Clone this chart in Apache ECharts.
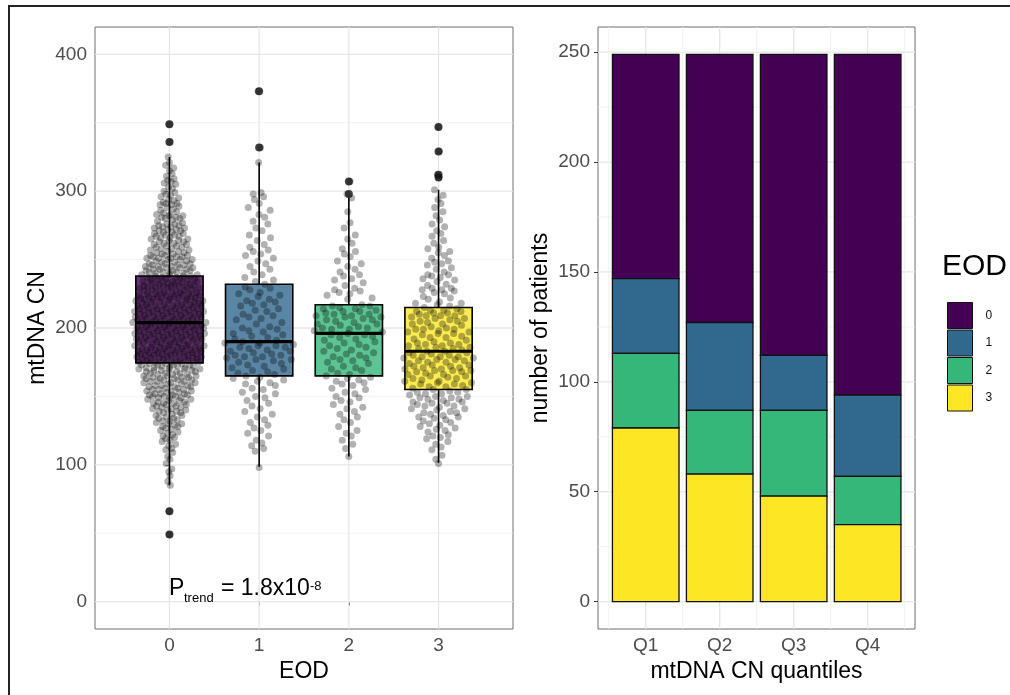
<!DOCTYPE html>
<html><head><meta charset="utf-8">
<script src="https://cdn.jsdelivr.net/npm/echarts@6/dist/echarts.min.js"></script>
<style>html,body{margin:0;padding:0;background:#fff}#c{width:1010px;height:695px}</style>
</head><body><div id="c"></div>
<script>
// ---------------- data ----------------
const EOD_LEVELS = ['0', '1', '2', '3'];
const EOD_COLORS = ['#440154', '#31688E', '#35B779', '#FDE725'];
const BOX_FILLS = ['rgba(68,1,84,0.8)', 'rgba(49,104,142,0.8)', 'rgba(53,183,121,0.8)', 'rgba(253,231,37,0.8)'];

// boxplot summary per EOD group: [lower whisker, Q1, median, Q3, upper whisker]
const BOX_STATS = [
  [85, 174.5, 204, 238, 325],
  [98.5, 165, 190, 232, 321],
  [106, 165, 196, 217, 295],
  [101.5, 155, 183, 215, 301]
];
const OUTLIERS = [[49, 66, 336, 349], [332, 373], [298, 307], [310, 312, 329, 347]];

// mtDNA CN of individual patients per EOD group (read from the dot clouds)
const CN_EOD0 = [49,66,85,88,92,95,97,
101,104,106,109,
111,112,114,115,117,118,119,
120,121,122,123,124,125,126,127,128,128,129,
130,130,131,132,132,133,134,134,135,136,136,137,138,138,139,139,
140,140,141,141,142,142,143,143,144,144,145,145,145,146,146,147,147,148,148,149,149,149,
150,150,150,151,151,151,152,152,152,153,153,154,154,154,155,155,155,156,156,157,157,157,158,158,158,159,159,
160,160,160,161,161,161,162,162,162,163,163,163,164,164,164,165,165,165,166,166,166,167,167,167,168,168,168,169,169,169,
170,170,170,170,171,171,171,171,172,172,172,173,173,173,173,174,174,174,175,175,175,175,176,176,176,177,177,177,177,178,178,178,179,179,179,179,
180,180,180,180,181,181,181,181,182,182,182,182,183,183,183,183,184,184,184,184,185,185,185,185,186,186,186,186,187,187,187,187,188,188,188,189,189,189,
190,190,190,190,191,191,191,191,192,192,192,192,193,193,193,193,194,194,194,194,195,195,195,195,196,196,196,196,197,197,197,197,198,198,198,198,199,199,199,199,
200,200,200,200,201,201,201,201,202,202,202,202,203,203,203,203,204,204,204,204,205,205,205,205,206,206,206,206,207,207,207,207,208,208,208,208,209,209,209,209,
210,210,210,210,211,211,211,211,212,212,212,212,213,213,213,213,214,214,214,214,215,215,215,215,216,216,216,216,217,217,217,217,218,218,218,219,219,219,
220,220,220,220,221,221,221,221,222,222,222,222,223,223,223,223,224,224,224,224,225,225,225,225,226,226,226,227,227,227,228,228,228,229,229,229,
230,230,230,230,231,231,231,231,232,232,232,233,233,233,234,234,234,235,235,235,236,236,236,237,237,237,238,238,238,239,239,239,
240,240,240,241,241,241,242,242,242,243,243,243,244,244,244,245,245,245,246,246,246,247,247,247,248,248,249,249,
250,250,250,251,251,251,252,252,252,253,253,253,254,254,255,255,256,256,257,257,258,258,259,259,
260,260,261,261,262,262,263,263,264,264,265,265,266,266,267,267,268,268,269,269,
270,270,271,271,272,272,273,273,274,274,275,275,276,276,277,278,279,
280,280,281,281,282,282,283,283,284,285,286,287,288,289,
290,290,291,291,292,293,294,295,296,297,298,299,
300,302,303,305,306,307,308,309,
311,313,315,317,319,
321,325,336,349];
const CN_EOD1 = [98,110,112,114,116,118,
121,123,125,127,129,
131,133,135,137,139,
141,143,145,147,149,
150,152,153,155,156,158,159,
160,161,162,163,164,165,166,167,168,169,
170,171,172,173,174,175,176,177,177,178,179,179,
180,180,181,182,183,183,184,185,186,186,187,187,188,189,189,
190,191,192,193,194,195,196,197,198,199,
200,201,203,204,206,207,208,209,
210,212,213,214,216,217,218,219,
220,221,223,224,225,226,228,229,
230,232,234,235,237,239,
241,243,245,247,249,
251,253,254,256,257,259,
261,264,266,268,
271,273,276,278,
281,283,286,288,
291,294,296,298,299,
321,332,373];
const CN_EOD2 = [106,112,115,118,
121,123,125,128,
131,133,135,137,139,
141,142,144,146,147,149,
150,152,153,155,156,158,159,
160,161,162,163,164,165,166,167,169,
170,171,172,174,175,176,177,178,179,
180,181,182,183,184,185,186,187,188,189,
190,191,192,193,194,195,195,196,197,198,199,199,
200,200,201,202,203,203,204,205,206,206,207,208,208,209,209,
210,210,211,212,212,213,214,214,215,216,216,217,
221,222,224,225,226,227,228,229,
231,233,235,236,238,239,
241,243,245,247,249,
252,254,256,258,
262,265,268,
273,277,
285,
295,
298,307];
const CN_EOD3 = [101,104,107,
111,113,115,117,119,
120,121,122,124,125,126,127,128,129,
130,131,132,133,134,135,135,136,137,138,138,139,
140,141,141,142,143,143,144,145,145,146,146,147,148,148,149,149,
150,150,151,152,152,153,153,154,155,155,156,157,157,158,159,159,
160,160,161,161,162,163,163,164,165,165,166,166,167,168,168,169,169,169,
170,170,171,171,172,172,173,173,174,175,175,176,176,177,177,178,178,179,179,179,
180,180,181,182,182,183,183,184,185,185,186,186,187,187,188,188,189,189,
190,191,192,193,193,194,195,196,196,197,197,198,199,199,199,
200,201,202,203,203,204,205,205,206,207,207,208,209,209,209,
210,211,211,212,212,213,213,214,215,216,217,218,218,219,
221,222,223,225,226,227,228,228,229,229,
231,232,234,235,236,237,238,239,239,
241,243,244,246,247,248,249,
251,253,255,256,258,259,
262,264,267,269,
271,274,276,279,
282,285,288,
291,294,297,
301,
310,312,329,347];
const CN_GROUPS = [CN_EOD0, CN_EOD1, CN_EOD2, CN_EOD3];

// number of patients per mtDNA CN quantile, by EOD
const Q_LABELS = ['Q1', 'Q2', 'Q3', 'Q4'];
const N_EOD0 = [102, 122, 137, 155];
const N_EOD1 = [34, 40, 25, 37];
const N_EOD2 = [34, 29, 39, 22];
const N_EOD3 = [79, 58, 48, 35];
const N_BY_EOD = [N_EOD0, N_EOD1, N_EOD2, N_EOD3];

// axis ticks
const LEFT_X_TICKS = [0, 1, 2, 3];
const LEFT_Y_TICKS = [0, 100, 200, 300, 400];
const LEFT_Y_MINOR = [50, 150, 250, 350];
const RIGHT_X_TICKS = [1, 2, 3, 4];
const RIGHT_X_MINOR = [0.5, 1.5, 2.5, 3.5, 4.5];
const RIGHT_Y_TICKS = [0, 50, 100, 150, 200, 250];
const RIGHT_Y_MINOR = [25, 75, 125, 175, 225];

// ---------------- layout helpers ----------------
const FONT = '"Liberation Sans", Arial, Helvetica, sans-serif';
const BOX_HALF = 0.375, BAR_HALF = 0.45, SWARM_HALF = 0.41;

function vdc(n) { let v = 0, d = 1; while (n) { d *= 2; v += (n & 1) / d; n >>= 1; } return v; }
function quasirandom(vals, g) {
  const s = [...vals].sort((a, b) => a - b);
  const bw = 9;
  const dens = s.map(y => s.reduce((acc, v) => acc + Math.exp(-0.5 * ((y - v) / bw) ** 2), 0));
  const dmax = Math.max(...dens);
  return s.map((y, i) => [g + (vdc(i + 1) * 2 - 1) * SWARM_HALF * dens[i] / dmax, y]);
}
const dots = [];
CN_GROUPS.forEach((vals, g) => quasirandom(vals, g).forEach(p => dots.push(p)));
const outlierPts = [];
OUTLIERS.forEach((o, g) => o.forEach(v => outlierPts.push([g, v])));
const boxData = BOX_STATS.map((s, g) => [g, ...s]);

// stacked bars: bottom = EOD 3, top = EOD 0
const stackOrder = [3, 2, 1, 0];
const barSeriesData = {};
const base = [0, 0, 0, 0];
stackOrder.forEach(lv => {
  barSeriesData[lv] = N_BY_EOD[lv].map((n, q) => { const r = [q + 1, base[q], base[q] + n]; base[q] += n; return r; });
});

function gridLinesData(hMaj, hMin, vMaj, vMin) {
  const d = [];
  hMaj.forEach(v => d.push([0, v, 1])); hMin.forEach(v => d.push([0, v, 0]));
  vMaj.forEach(v => d.push([1, v, 1])); vMin.forEach(v => d.push([1, v, 0]));
  return d;
}
function gridRenderer(refX, refY) {
  return function (params, api) {
    const cs = params.coordSys;
    const o = api.value(0), v = api.value(1), major = api.value(2);
    let shape;
    if (o === 0) { const y = api.coord([refX, v])[1]; shape = { x1: cs.x, y1: y, x2: cs.x + cs.width, y2: y }; }
    else { const x = api.coord([v, refY])[0]; shape = { x1: x, y1: cs.y, x2: x, y2: cs.y + cs.height }; }
    return { type: 'line', shape, style: { stroke: major ? '#e6e6e6' : '#f1f1f1', lineWidth: major ? 1.3 : 0.9 } };
  };
}

const axisCommon = {
  axisLine: { show: false },
  splitLine: { show: false },
  nameTextStyle: { fontSize: 23, color: '#000', fontFamily: FONT },
};

const series = [
  { type: 'custom', name: 'gridL', xAxisIndex: 0, yAxisIndex: 0, z: 1, silent: true,
    data: gridLinesData(LEFT_Y_TICKS, LEFT_Y_MINOR, LEFT_X_TICKS, []), renderItem: gridRenderer(0, 0) },
  { type: 'custom', name: 'gridR', xAxisIndex: 1, yAxisIndex: 1, z: 1, silent: true,
    data: gridLinesData(RIGHT_Y_TICKS, RIGHT_Y_MINOR, RIGHT_X_TICKS, RIGHT_X_MINOR), renderItem: gridRenderer(1, 0) },
  { type: 'custom', name: 'box', xAxisIndex: 0, yAxisIndex: 0, z: 2, silent: true,
    encode: { x: 0, y: [1, 2, 3, 4, 5] },
    data: boxData,
    renderItem: function (params, api) {
      const g = api.value(0);
      const lo = api.value(1), q1 = api.value(2), med = api.value(3), q3 = api.value(4), hi = api.value(5);
      const tl = api.coord([g - BOX_HALF, q3]), br = api.coord([g + BOX_HALF, q1]);
      const cx = api.coord([g, med])[0];
      const yLo = api.coord([g, lo])[1], yHi = api.coord([g, hi])[1], yMed = api.coord([g, med])[1];
      const line = { stroke: '#000', lineWidth: 1.6 };
      return { type: 'group', children: [
        { type: 'line', shape: { x1: cx, y1: yHi, x2: cx, y2: tl[1] }, style: line },
        { type: 'line', shape: { x1: cx, y1: br[1], x2: cx, y2: yLo }, style: line },
        { type: 'rect', shape: { x: tl[0], y: tl[1], width: br[0] - tl[0], height: br[1] - tl[1] },
          style: { fill: BOX_FILLS[params.dataIndex], stroke: '#000', lineWidth: 1.6 } },
        { type: 'line', shape: { x1: tl[0], y1: yMed, x2: br[0], y2: yMed }, style: { stroke: '#000', lineWidth: 3.2 } }
      ] };
    } },
  { type: 'scatter', name: 'dots', xAxisIndex: 0, yAxisIndex: 0, z: 3, silent: true,
    symbolSize: 7, data: dots, itemStyle: { color: 'rgba(0,0,0,0.38)' } },
  { type: 'scatter', name: 'outliers', xAxisIndex: 0, yAxisIndex: 0, z: 4, silent: true,
    symbolSize: 8, data: outlierPts, itemStyle: { color: '#111' } }
];
EOD_LEVELS.forEach((name, lv) => {
  series.push({
    type: 'custom', name, xAxisIndex: 1, yAxisIndex: 1, z: 2,
    itemStyle: { color: EOD_COLORS[lv] },
    encode: { x: 0, y: [1, 2] },
    data: barSeriesData[lv],
    renderItem: function (params, api) {
      const q = api.value(0), lo = api.value(1), hi = api.value(2);
      const p0 = api.coord([q - BAR_HALF, hi]), p1 = api.coord([q + BAR_HALF, lo]);
      return { type: 'rect', shape: { x: p0[0], y: p0[1], width: p1[0] - p0[0], height: p1[1] - p0[1] },
        style: { fill: EOD_COLORS[lv], stroke: '#111', lineWidth: 1.3 } };
    }
  });
});

const option = {
  animation: false,
  backgroundColor: '#fff',
  textStyle: { fontFamily: FONT },
  grid: [
    { left: 95, top: 27, width: 418, height: 602, show: true, borderColor: '#6e6e6e', borderWidth: 1, backgroundColor: '#fff' },
    { left: 598, top: 27, width: 317, height: 602, show: true, borderColor: '#6e6e6e', borderWidth: 1, backgroundColor: '#fff' }
  ],
  xAxis: [
    Object.assign({}, axisCommon, { type: 'value', gridIndex: 0, min: -0.83, max: 3.83,
      name: 'EOD', nameLocation: 'middle', nameGap: 28,
      axisTick: { show: true, length: 4, customValues: LEFT_X_TICKS, lineStyle: { color: '#333' } },
      axisLabel: { customValues: LEFT_X_TICKS, fontSize: 19, color: '#4d4d4d', margin: 7 } }),
    Object.assign({}, axisCommon, { type: 'value', gridIndex: 1, min: 0.355, max: 4.64,
      name: 'mtDNA CN quantiles', nameLocation: 'middle', nameGap: 28,
      axisTick: { show: true, length: 4, customValues: RIGHT_X_TICKS, lineStyle: { color: '#333' } },
      axisLabel: { customValues: RIGHT_X_TICKS, fontSize: 19, color: '#4d4d4d', margin: 7,
        formatter: v => Q_LABELS[Math.round(v) - 1] } })
  ],
  yAxis: [
    Object.assign({}, axisCommon, { type: 'value', gridIndex: 0, min: -20, max: 420,
      name: 'mtDNA CN', nameLocation: 'middle', nameGap: 46,
      axisTick: { show: true, length: 4, customValues: LEFT_Y_TICKS, lineStyle: { color: '#333' } },
      axisLabel: { customValues: LEFT_Y_TICKS, fontSize: 19, color: '#4d4d4d', margin: 8 } }),
    Object.assign({}, axisCommon, { type: 'value', gridIndex: 1, min: -12.45, max: 261.45,
      name: 'number of patients', nameLocation: 'middle', nameGap: 46,
      axisTick: { show: true, length: 4, customValues: RIGHT_Y_TICKS, lineStyle: { color: '#333' } },
      axisLabel: { customValues: RIGHT_Y_TICKS, fontSize: 19, color: '#4d4d4d', margin: 8 } })
  ],
  legend: {
    data: EOD_LEVELS, orient: 'vertical', left: 942, top: 297,
    itemWidth: 25, itemHeight: 26, itemGap: 0.5, icon: 'rect', selectedMode: false,
    itemStyle: { borderColor: '#111', borderWidth: 1 },
    textStyle: { fontSize: 12, color: '#111', padding: [0, 0, 0, 8] }
  },
  graphic: [
    { type: 'line', shape: { x1: 8, y1: 6, x2: 1010, y2: 6 }, style: { stroke: '#222', lineWidth: 2 }, z: 10 },
    { type: 'line', shape: { x1: 9, y1: 5, x2: 9, y2: 695 }, style: { stroke: '#222', lineWidth: 2 }, z: 10 },
    { type: 'text', x: 942, y: 267, style: { text: 'EOD', font: '30px ' + FONT, fill: '#000', verticalAlign: 'middle' }, z: 10 },
    { type: 'text', x: 169, y: 589, style: { text: 'P', font: '23px ' + FONT, fill: '#000', verticalAlign: 'middle' }, z: 10 },
    { type: 'text', x: 184, y: 598.5, style: { text: 'trend', font: '13px ' + FONT, fill: '#000', verticalAlign: 'middle' }, z: 10 },
    { type: 'text', x: 221, y: 589, style: { text: '= 1.8x10', font: '23px ' + FONT, fill: '#000', verticalAlign: 'middle' }, z: 10 },
    { type: 'text', x: 310, y: 586, style: { text: '-8', font: '13px ' + FONT, fill: '#000', verticalAlign: 'middle' }, z: 10 }
  ],
  series
};
const chart = echarts.init(document.getElementById('c'), null, { renderer: 'canvas' });
chart.setOption(option);
</script></body></html>
